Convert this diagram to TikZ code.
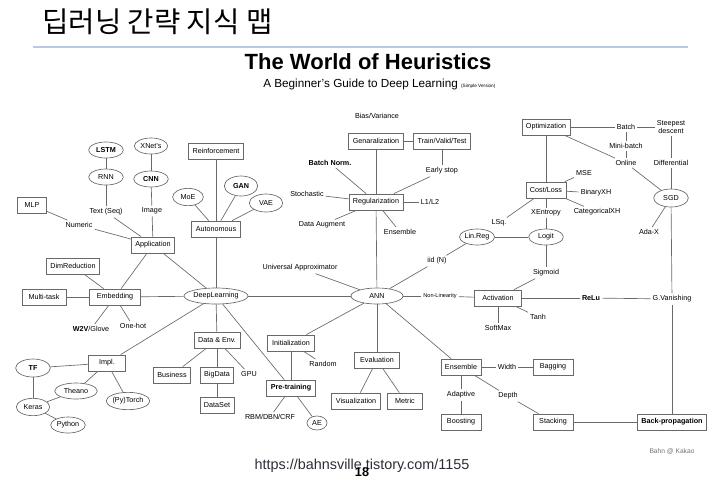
\documentclass[tikz,border=0pt]{standalone}
\usepackage{fontspec}
\setmainfont{Liberation Sans}
\newfontfamily\krfont{Noto Sans CJK KR}
\usetikzlibrary{shapes.geometric}
\definecolor{linegray}{RGB}{105,105,105}
\definecolor{rulecol}{RGB}{184,202,228}
\definecolor{urlcol}{RGB}{45,45,55}
\newcommand{\dsize}{\fontsize{5.4}{6.2}\selectfont}
\tikzset{
  box/.style={draw=linegray,fill=white,line width=0.6pt,minimum height=12pt,inner xsep=3pt,inner ysep=1pt,font=\dsize},
  oval/.style={draw=linegray,fill=white,ellipse,line width=0.5pt,minimum width=26pt,minimum height=12pt,inner sep=0pt,font=\dsize},
  lbl/.style={inner sep=1.5pt,font=\dsize},
  conn/.style={draw=linegray,line width=0.5pt}
}
\begin{document}
\begin{tikzpicture}[x=0.75pt,y=0.75pt,yscale=-1,xscale=1]
        \useasboundingbox (0,0) rectangle (721,480);
        \draw (42,22) node [anchor=west,inner sep=0pt,font=\krfont\fontsize{21.5}{24}\selectfont] (ktitle) {딥러닝 간략 지식 맵};
        \draw [rulecol,line width=1.5pt] (33,47) -- (688,47);
        \draw (368,62) node [font=\bfseries\fontsize{16.5}{18}\selectfont] (title) {The World of Heuristics};
        \draw (263,84) node [anchor=west,inner sep=0pt,font=\fontsize{8.8}{10}\selectfont] (subtitle) {A Beginner's Guide to Deep Learning {\fontsize{3.5}{4}\selectfont(Simple Version)}};
        \draw (377,116) node [lbl] (bias) {Bias/Variance};
        \draw (376,141) node [box] (gen) {Genaralization};
        \draw (442,141) node [box] (tvt) {Train/Valid/Test};
        \draw (442,171) node [lbl] (estop) {Early stop};
        \draw (330,163) node [lbl] (bnorm) {\textbf{Batch Norm.}};
        \draw (307,194) node [lbl] (stoch) {Stochastic};
        \draw (376,202) node [box] (reg) {Regularization};
        \draw (430,202) node [lbl] (l1l2) {L1/L2};
        \draw (322,225) node [lbl] (daug) {Data Augment};
        \draw (400,232) node [lbl] (ensword) {Ensemble};
        \draw (546,127) node [box] (opt) {Optimization};
        \draw (626,127) node [lbl] (batch) {Batch};
        \draw (671,127) node [lbl,align=center,font=\fontsize{5.4}{5.8}\selectfont] (steep) {Steepest\\descent};
        \draw (626,146) node [lbl] (minib) {Mini-batch};
        \draw (626,163) node [lbl] (online) {Online};
        \draw (671,163) node [lbl] (diff) {Differential};
        \draw (671,198) node [oval,minimum height=13.5pt] (sgd) {SGD};
        \draw (649,232) node [lbl] (adax) {Ada-X};
        \draw (546,190) node [box] (cost) {Cost/Loss};
        \draw (584,173) node [lbl] (mse) {MSE};
        \draw (596,193) node [lbl] (bxh) {BinaryXH};
        \draw (597,212) node [lbl] (cxh) {CategoricalXH};
        \draw (546,213) node [lbl] (xent) {XEntropy};
        \draw (499,223) node [lbl] (lsq) {LSq.};
        \draw (477,237) node [oval] (linreg) {Lin.Reg};
        \draw (546,237) node [oval] (logit) {Logit};
        \draw (437,261) node [lbl] (iid) {iid (N)};
        \draw (546,273) node [lbl] (sigm) {Sigmoid};
        \draw (498,298) node [box,minimum width=35pt] (act) {Activation};
        \draw (591,298) node [lbl] (relu) {\textbf{ReLu}};
        \draw (672,299) node [lbl] (gvan) {G.Vanishing};
        \draw (538,317) node [lbl] (tanh) {Tanh};
        \draw (498,328) node [lbl] (softmax) {SoftMax};
        \draw (440,296) node [lbl,font=\fontsize{4.2}{5}\selectfont] (nonlin) {Non-Linearity};
        \draw (377,296) node [oval,minimum width=39pt] (ann) {ANN};
        \draw (300,268) node [lbl] (uapprox) {Universal Approximator};
        \draw (216,296) node [oval,minimum width=46pt] (dl) {DeepLearning};
        \draw (216,151) node [box] (reinf) {Reinforcement};
        \draw (188,197) node [oval,minimum width=23pt,minimum height=13pt] (moe) {MoE};
        \draw (241,186) node [oval,minimum width=25pt,minimum height=15pt] (gan) {\textbf{GAN}};
        \draw (266,203) node [oval,minimum width=25pt,minimum height=13.5pt] (vae) {VAE};
        \draw (216,229) node [box] (auton) {Autonomous};
        \draw (106,150) node [oval] (lstm) {\textbf{LSTM}};
        \draw (151,146) node [oval,minimum width=25pt] (xnet) {XNet's};
        \draw (106,177) node [oval] (rnn) {RNN};
        \draw (151,179) node [oval] (cnn) {\textbf{CNN}};
        \draw (106,212) node [lbl] (textseq) {Text (Seq)};
        \draw (152,211) node [lbl] (image) {Image};
        \draw (32,205) node [box,minimum width=22pt] (mlp) {MLP};
        \draw (79,225) node [lbl] (numeric) {Numeric};
        \draw (153,245) node [box] (app) {Application};
        \draw (73,266) node [box] (dimred) {DimReduction};
        \draw (44,297) node [box,minimum width=33pt] (mtask) {Multi-task};
        \draw (115,297) node [box,minimum width=38pt] (embed) {Embedding};
        \draw (91,329) node [lbl] (w2v) {\textbf{W2V}/Glove};
        \draw (133,326) node [lbl] (onehot) {One-hot};
        \draw (107,363) node [box,minimum width=28pt] (impl) {Impl.};
        \draw (33,368) node [oval,minimum height=13.5pt] (tf) {\textbf{TF}};
        \draw (33,407) node [oval,minimum width=25pt,minimum height=13pt] (keras) {Keras};
        \draw (76,391) node [oval,minimum width=32pt] (theano) {Theano};
        \draw (128,401) node [oval,minimum height=13pt] (torch) {(Py)Torch};
        \draw (68,425) node [oval] (python) {Python};
        \draw (217,340) node [box] (dataenv) {Data \& Env.};
        \draw (172,375) node [box,minimum width=28pt] (business) {Business};
        \draw (217,375) node [box,minimum width=25pt] (bigdata) {BigData};
        \draw (249,374) node [lbl] (gpu) {GPU};
        \draw (217,405) node [box,minimum width=25pt] (dataset) {DataSet};
        \draw (291,343) node [box,minimum width=35pt] (init) {Initialization};
        \draw (323,364) node [lbl] (random) {Random};
        \draw (291,388) node [box,minimum width=35pt] (pretrain) {\textbf{Pre-training}};
        \draw (270,417) node [lbl] (rbm) {RBM/DBN/CRF};
        \draw (317,423) node [oval,minimum width=15pt,minimum height=10.5pt] (ae) {AE};
        \draw (377,360) node [box,minimum width=34pt] (eval) {Evaluation};
        \draw (356,401) node [box,minimum width=34pt] (vis) {Visualization};
        \draw (405,401) node [box,minimum width=26pt] (metric) {Metric};
        \draw (461,367) node [box,minimum width=30pt] (ens) {Ensemble};
        \draw (507,367) node [lbl] (width) {Width};
        \draw (553,367) node [box,minimum width=30pt] (bagging) {Bagging};
        \draw (461,395) node [lbl] (adapt) {Adaptive};
        \draw (461,422) node [box,minimum width=30pt] (boost) {Boosting};
        \draw (508,396) node [lbl] (depth) {Depth};
        \draw (553,422) node [box,minimum width=30pt] (stack) {Stacking};
        \draw (672,422) node [box,minimum width=52pt] (backprop) {\textbf{Back-propagation}};
        \draw (672,452) node [lbl,text=black!55,font=\fontsize{5}{6}\selectfont] (credit) {Bahn @ Kakao};
        \draw (362,466) node [inner sep=0pt,text=urlcol,font=\fontsize{10.8}{12}\selectfont] (url) {https://bahnsville.tistory.com/1155};
        \draw (362,472) node [inner sep=0pt,font=\bfseries\fontsize{9.5}{11}\selectfont] (page) {18};
        \draw [conn] (gen) -- (tvt);
        \draw [conn] (tvt) -- (estop);
        \draw [conn] (estop) -- (reg);
        \draw [conn] (gen) -- (reg);
        \draw [conn] (reg) -- (ann);
        \draw [conn] (bnorm) -- (reg);
        \draw [conn] (stoch) -- (reg);
        \draw [conn] (daug) -- (reg);
        \draw [conn] (ensword) -- (reg);
        \draw [conn] (reg) -- (l1l2);
        \draw [conn] (opt) -- (batch);
        \draw [conn] (batch) -- (steep);
        \draw [conn] (batch) -- (minib);
        \draw [conn] (minib) -- (online);
        \draw [conn] (opt) -- (online);
        \draw [conn] (online) -- (sgd);
        \draw [conn] (steep) -- (diff);
        \draw [conn] (diff) -- (sgd);
        \draw [conn] (sgd) -- (adax);
        \draw [conn] (sgd) -- (gvan);
        \draw [conn] (gvan) -- (backprop);
        \draw [conn] (opt) -- (cost);
        \draw [conn] (cost) -- (mse);
        \draw [conn] (cost) -- (bxh);
        \draw [conn] (cost) -- (cxh);
        \draw [conn] (cost) -- (xent);
        \draw [conn] (cost) -- (lsq);
        \draw [conn] (xent) -- (logit);
        \draw [conn] (linreg) -- (logit);
        \draw [conn] (linreg) -- (iid);
        \draw [conn] (iid) -- (ann);
        \draw [conn] (logit) -- (sigm);
        \draw [conn] (sigm) -- (act);
        \draw [conn] (act) -- (relu);
        \draw [conn] (relu) -- (gvan);
        \draw [conn] (act) -- (tanh);
        \draw [conn] (act) -- (softmax);
        \draw [conn] (ann) -- (nonlin);
        \draw [conn] (nonlin) -- (act);
        \draw [conn] (uapprox) -- (ann);
        \draw [conn] (dl) -- (ann);
        \draw [conn] (ann) -- (init);
        \draw [conn] (ann) -- (eval);
        \draw [conn] (ann) -- (ens);
        \draw [conn] (eval) -- (vis);
        \draw [conn] (eval) -- (metric);
        \draw [conn] (ens) -- (width);
        \draw [conn] (width) -- (bagging);
        \draw [conn] (ens) -- (adapt);
        \draw [conn] (adapt) -- (boost);
        \draw [conn] (ens) -- (depth);
        \draw [conn] (depth) -- (stack);
        \draw [conn] (stack) -- (backprop);
        \draw [conn] (init) -- (random);
        \draw [conn] (init) -- (pretrain);
        \draw [conn] (pretrain) -- (rbm);
        \draw [conn] (pretrain) -- (ae);
        \draw [conn] (dl) -- (pretrain);
        \draw [conn] (dl) -- (dataenv);
        \draw [conn] (dataenv) -- (business);
        \draw [conn] (dataenv) -- (bigdata);
        \draw [conn] (dataenv) -- (gpu);
        \draw [conn] (bigdata) -- (dataset);
        \draw [conn] (dl) -- (impl);
        \draw [conn] (impl) -- (tf);
        \draw [conn] (impl) -- (theano);
        \draw [conn] (impl) -- (torch);
        \draw [conn] (tf) -- (keras);
        \draw [conn] (keras) -- (theano);
        \draw [conn] (keras) -- (python);
        \draw [conn] (dl) -- (embed);
        \draw [conn] (embed) -- (mtask);
        \draw [conn] (embed) -- (dimred);
        \draw [conn] (embed) -- (w2v);
        \draw [conn] (embed) -- (onehot);
        \draw [conn] (embed) -- (app);
        \draw [conn] (dl) -- (app);
        \draw [conn] (app) -- (numeric);
        \draw [conn] (numeric) -- (mlp);
        \draw [conn] (app) -- (textseq);
        \draw [conn] (textseq) -- (rnn);
        \draw [conn] (rnn) -- (lstm);
        \draw [conn] (app) -- (image);
        \draw [conn] (image) -- (cnn);
        \draw [conn] (cnn) -- (xnet);
        \draw [conn] (dl) -- (auton);
        \draw [conn] (auton) -- (reinf);
        \draw [conn] (auton) -- (moe);
        \draw [conn] (auton) -- (gan);
        \draw [conn] (auton) -- (vae);
    \end{tikzpicture}
\end{document}
